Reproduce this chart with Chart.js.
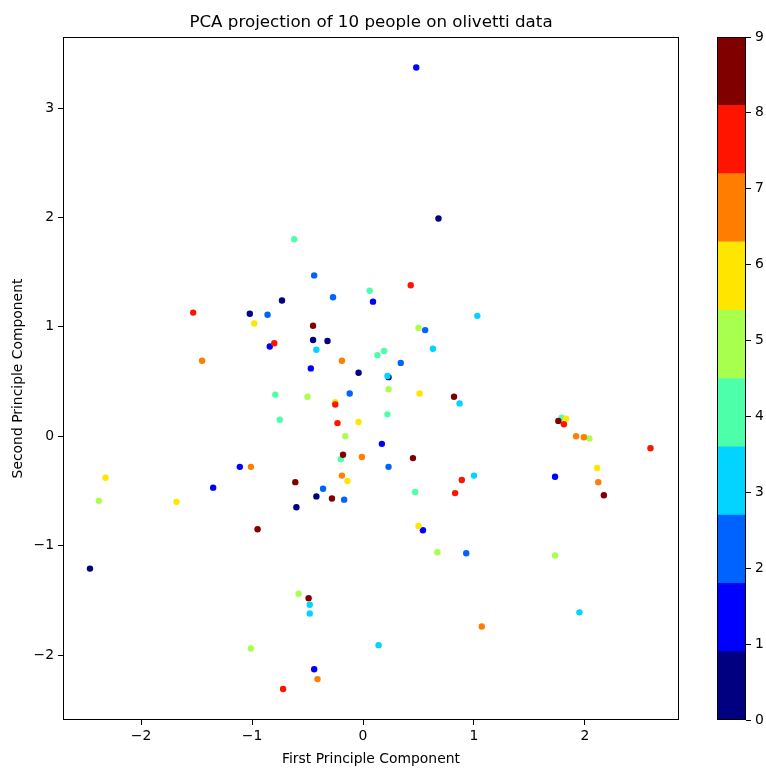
<!DOCTYPE html>
<html>
<head>
<meta charset="utf-8">
<script src="https://cdn.jsdelivr.net/npm/chart.js@4.4.1/dist/chart.umd.min.js"></script>
<style>
  html, body { margin: 0; padding: 0; background: #fff; }
  #wrap { position: relative; width: 766px; height: 771px; }
  #mainChart { position: absolute; left: 0; top: 0; }
  #cbarChart { position: absolute; left: 700px; top: 0; }
</style>
</head>
<body>
<div id="wrap">
  <canvas id="mainChart" width="766" height="771"></canvas>
  <canvas id="cbarChart" width="66" height="771"></canvas>
</div>
<script>
// PCA coordinates, one pair of arrays per person (0..9)
const xs0 = [0.68, -1.02, -0.73, -0.45, -0.32, -0.04, 0.23, -2.46, -0.42, -0.60];
const ys0 = [1.99, 1.12, 1.24, 0.88, 0.87, 0.58, 0.54, -1.21, -0.55, -0.65];
const xs1 = [0.48, -0.84, -1.11, -1.35, 0.09, -0.47, 0.17, 1.73, 0.54, -0.44];
const ys1 = [3.37, 0.82, -0.28, -0.47, 1.23, 0.62, -0.07, -0.37, -0.86, -2.13];
const xs2 = [-0.86, -0.44, -0.27, 0.56, 0.34, -0.12, 0.23, -0.36, -0.17, 0.93];
const ys2 = [1.11, 1.47, 1.27, 0.97, 0.67, 0.39, -0.28, -0.48, -0.58, -1.07];
const xs3 = [1.03, -0.42, 0.63, 0.22, 0.87, 1.00, -0.48, -0.48, 0.14, 1.95];
const ys3 = [1.10, 0.79, 0.80, 0.55, 0.30, -0.36, -1.54, -1.62, -1.91, -1.61];
const xs4 = [-0.62, 0.06, 0.19, 0.13, -0.79, -0.75, 0.22, -0.20, 0.47, 1.79];
const ys4 = [1.80, 1.33, 0.78, 0.74, 0.38, 0.15, 0.20, -0.21, -0.51, 0.17];
const xs5 = [0.50, 0.23, -0.50, -0.16, 2.04, -2.38, -1.01, 0.67, -0.58, 1.73];
const ys5 = [0.99, 0.43, 0.36, 0.00, -0.02, -0.59, -1.94, -1.06, -1.44, -1.09];
const xs6 = [-0.98, -2.32, 0.51, -0.04, -0.14, 1.83, 2.11, -1.68, 0.50, -0.25];
const ys6 = [1.03, -0.38, 0.39, 0.13, -0.41, 0.16, -0.29, -0.60, -0.82, 0.31];
const xs7 = [-1.45, -1.01, -0.19, -0.01, -0.19, 1.92, 1.99, 2.12, -0.41, 1.07];
const ys7 = [0.69, -0.28, 0.69, -0.19, -0.36, 0.00, -0.01, -0.42, -2.22, -1.74];
const xs8 = [-1.53, -0.80, 0.43, -0.25, -0.23, 0.89, 0.83, 1.81, 2.59, -0.72];
const ys8 = [1.13, 0.85, 1.38, 0.29, 0.12, -0.40, -0.52, 0.11, -0.11, -2.31];
const xs9 = [-0.45, 0.82, -0.18, 0.45, -0.61, 1.76, -0.95, -0.28, -0.49, 2.17];
const ys9 = [1.01, 0.36, -0.17, -0.20, -0.42, 0.14, -0.85, -0.57, -1.48, -0.54];

const people = [0, 1, 2, 3, 4, 5, 6, 7, 8, 9];
const xByPerson = [xs0, xs1, xs2, xs3, xs4, xs5, xs6, xs7, xs8, xs9];
const yByPerson = [ys0, ys1, ys2, ys3, ys4, ys5, ys6, ys7, ys8, ys9];

// jet colormap sampled at 10 levels
const jet10 = ['#000080', '#0000ff', '#0063ff', '#00d4ff', '#4effa9',
               '#a9ff4e', '#ffe600', '#ff7d00', '#ff1400', '#800000'];

const xTicks = [-2, -1, 0, 1, 2];
const yTicks = [-2, -1, 0, 1, 2, 3];
const cbarTicks = [0, 1, 2, 3, 4, 5, 6, 7, 8, 9];
const chartTitle = 'PCA projection of 10 people on olivetti data';

const FONT = 'DejaVu Sans';
const minus = v => String(v).replace('-', '\u2212');

// draws the black frame round the plotting area (matplotlib spines)
const frame = {
    id: 'frame',
    afterDraw(chart) {
        const { ctx, chartArea: a } = chart;
        ctx.save();
        ctx.strokeStyle = '#000';
        ctx.lineWidth = 1;
        ctx.strokeRect(Math.round(a.left) + 0.5, Math.round(a.top) + 0.5,
                       Math.round(a.right - a.left) - 1, Math.round(a.bottom - a.top) - 1);
        ctx.restore();
    }
};

// title centred over the axes, not over the whole canvas
const axesTitle = {
    id: 'axesTitle',
    afterDraw(chart) {
        const { ctx, chartArea: a } = chart;
        ctx.save();
        ctx.fillStyle = '#000';
        ctx.font = `16.7px "${FONT}"`;
        ctx.textAlign = 'center';
        ctx.textBaseline = 'alphabetic';
        ctx.fillText(chartTitle, (a.left + a.right) / 2, 27);
        ctx.restore();
    }
};

// points in person order so later people sit on top
const points = [];
const pointColors = [];
people.forEach(p => {
    xByPerson[p].forEach((x, i) => {
        points.push({ x: x, y: yByPerson[p][i] });
        pointColors.push(jet10[p]);
    });
});

new Chart(document.getElementById('mainChart'), {
    type: 'scatter',
    data: {
        datasets: [{
            data: points,
            pointBackgroundColor: pointColors,
            pointBorderWidth: 0,
            pointRadius: 3.2,
            pointHoverRadius: 3.2
        }]
    },
    options: {
        responsive: false,
        animation: false,
        layout: { padding: { left: 0, right: 87, top: 37, bottom: 0 } },
        plugins: {
            legend: { display: false },
            tooltip: { enabled: false },
            title: { display: false }
        },
        scales: {
            x: {
                type: 'linear',
                min: -2.703, max: 2.847,
                afterFit: s => { s.height = 51; },
                afterBuildTicks: s => { s.ticks = xTicks.map(v => ({ value: v })); },
                border: { display: false },
                grid: { drawOnChartArea: false, drawTicks: true, tickLength: 5, tickColor: '#000' },
                ticks: { color: '#000', padding: 3, font: { family: FONT, size: 13.9 }, callback: v => minus(v) },
                title: {
                    display: true, text: 'First Principle Component', color: '#000',
                    font: { family: FONT, size: 13.9 }, padding: { top: 0, bottom: 3 }
                }
            },
            y: {
                type: 'linear',
                min: -2.594, max: 3.649,
                afterFit: s => { s.width = 63; },
                afterBuildTicks: s => { s.ticks = yTicks.map(v => ({ value: v })); },
                border: { display: false },
                grid: { drawOnChartArea: false, drawTicks: true, tickLength: 5, tickColor: '#000' },
                ticks: { color: '#000', padding: 4, font: { family: FONT, size: 13.9 }, callback: v => minus(v) },
                title: {
                    display: true, text: 'Second Principle Component', color: '#000',
                    font: { family: FONT, size: 13.9 }, padding: { top: 10, bottom: 0 }
                }
            }
        }
    },
    plugins: [frame, axesTitle]
});

// colorbar: ten stacked bands of equal height from 0 to 9
const bandHeight = 9 / people.length;
new Chart(document.getElementById('cbarChart'), {
    type: 'bar',
    data: {
        labels: [''],
        datasets: people.map(p => ({
            data: [bandHeight],
            backgroundColor: jet10[p],
            borderWidth: 0,
            barPercentage: 1,
            categoryPercentage: 1
        }))
    },
    options: {
        responsive: false,
        animation: false,
        layout: { padding: { left: 17, right: 0, top: 37, bottom: 51 } },
        plugins: { legend: { display: false }, tooltip: { enabled: false } },
        scales: {
            x: { display: false, stacked: true },
            y: {
                position: 'right',
                stacked: true,
                min: 0, max: 9,
                afterFit: s => { s.width = 20; },
                afterBuildTicks: s => { s.ticks = cbarTicks.map(v => ({ value: v })); },
                border: { display: false },
                grid: { drawOnChartArea: false, drawTicks: true, tickLength: 5, tickColor: '#000' },
                ticks: { color: '#000', padding: 4, font: { family: FONT, size: 13.9 } }
            }
        }
    },
    plugins: [frame]
});
</script>
</body>
</html>
